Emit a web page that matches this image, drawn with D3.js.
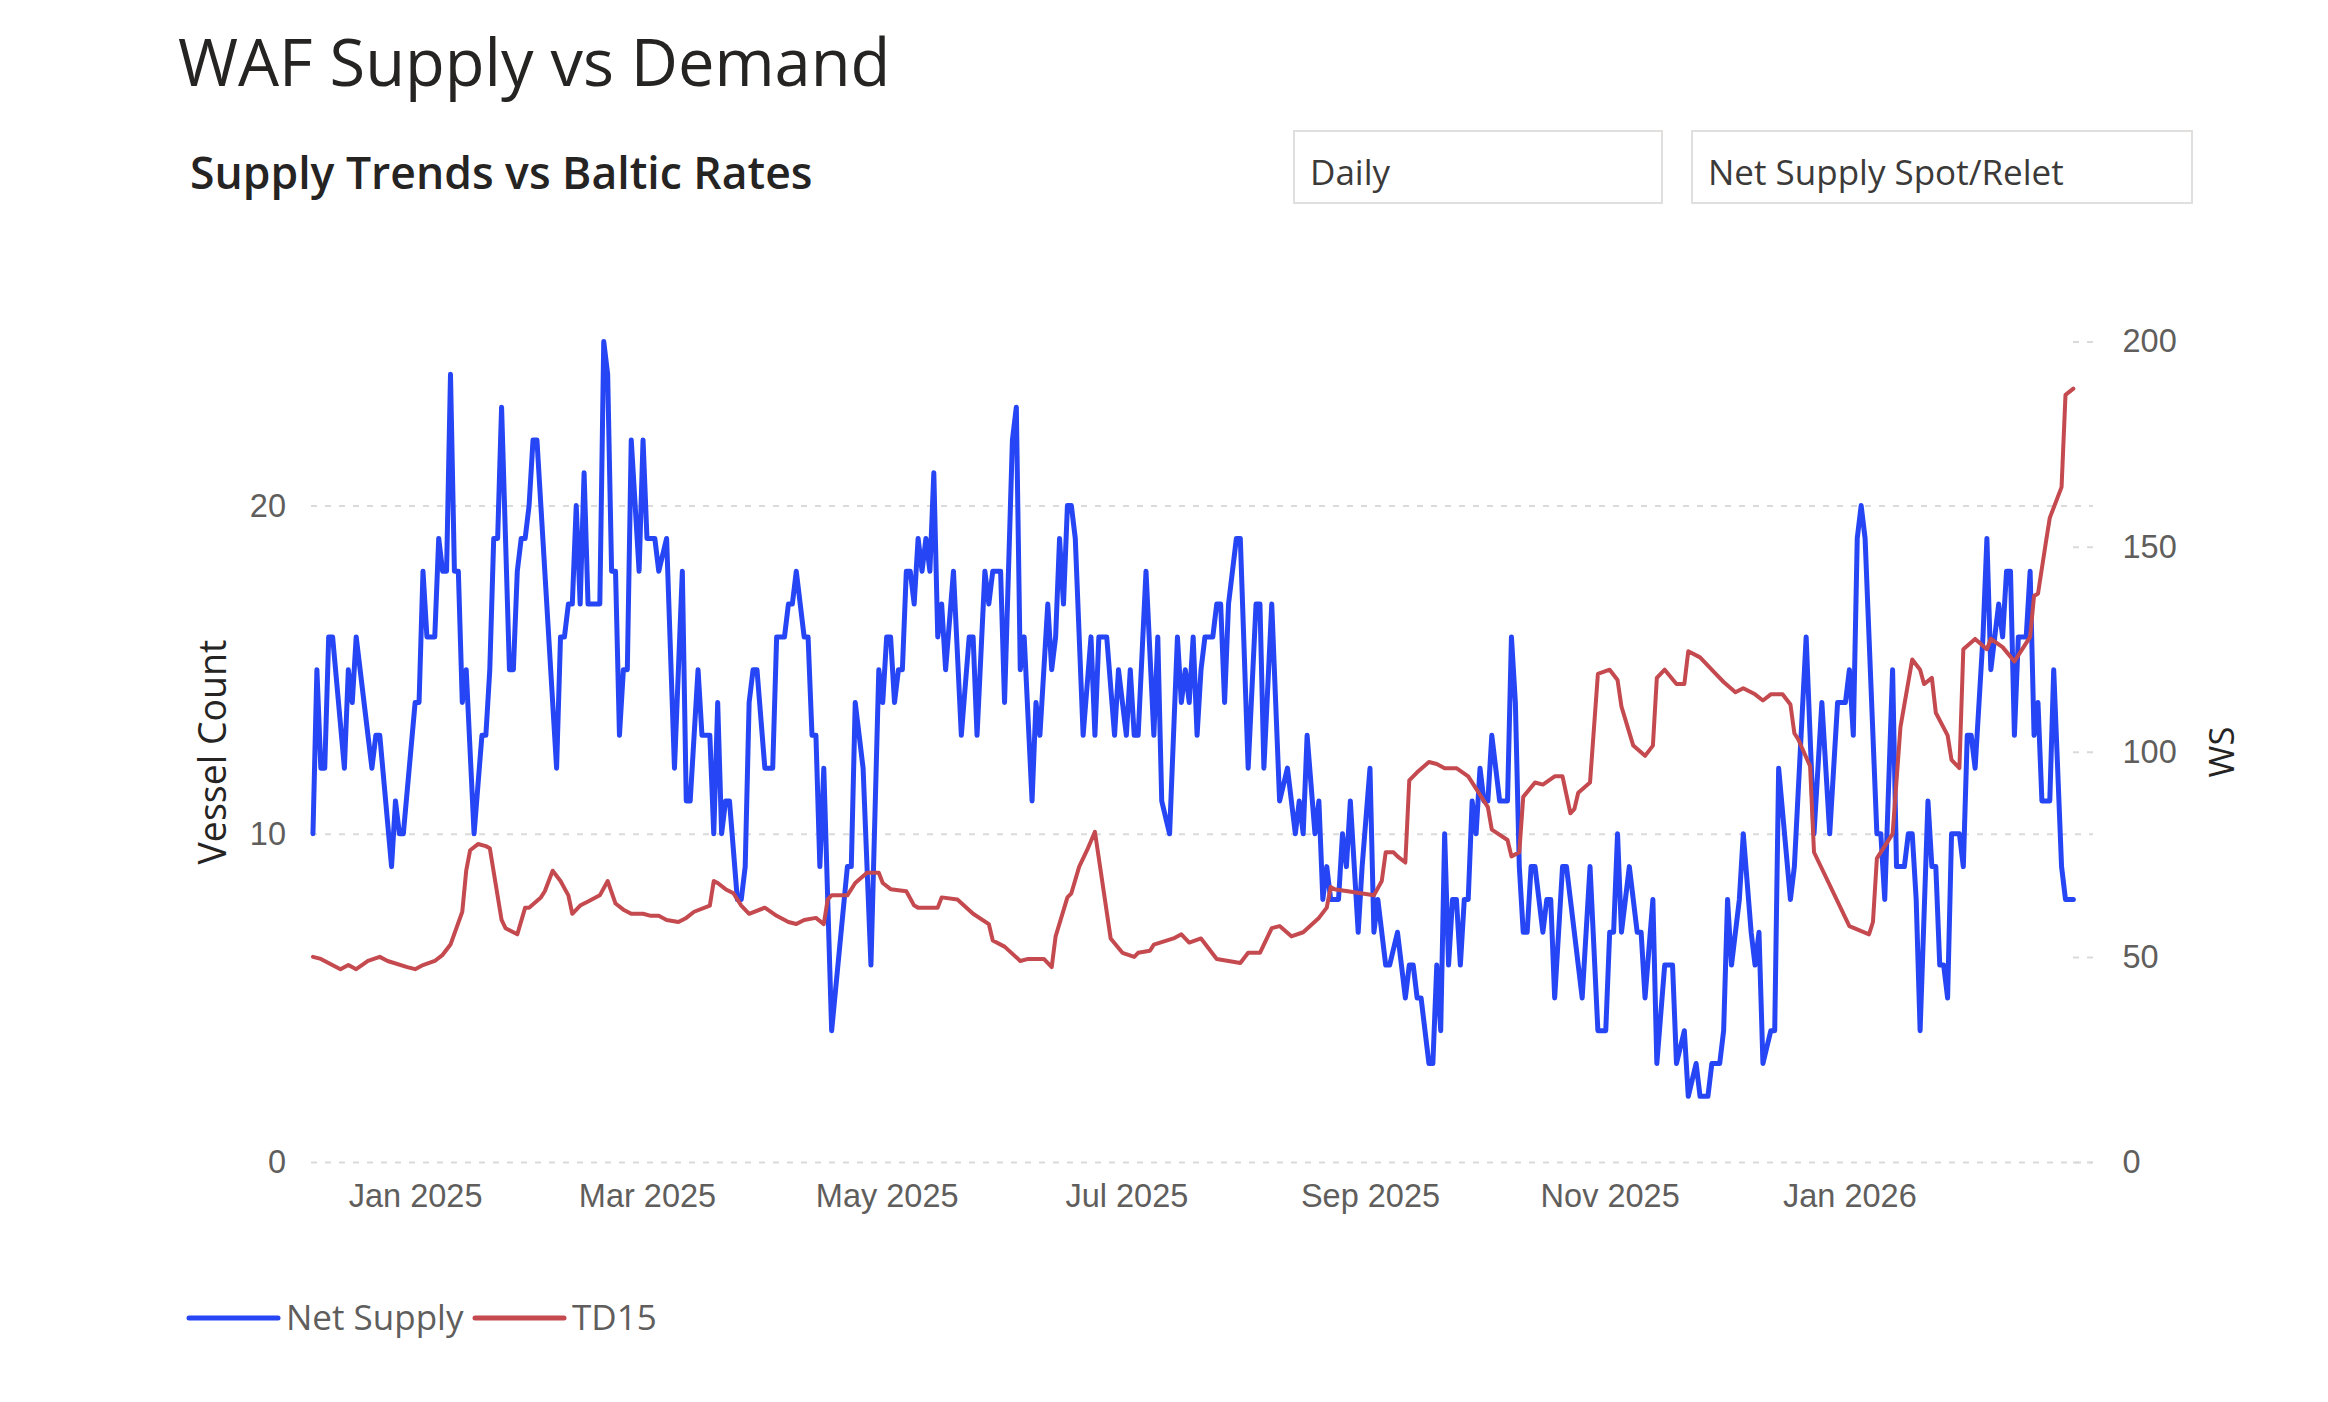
<!DOCTYPE html>
<html>
<head>
<meta charset="utf-8">
<title>WAF Supply vs Demand</title>
<script src="https://cdn.jsdelivr.net/npm/d3@7"></script>
<style>
  body { margin: 0; background: #fff; }
  svg { display: block; font-family: "Segoe UI", "Open Sans", sans-serif; }
</style>
</head>
<body>
<svg id="chart" width="2328" height="1402"></svg>
<script>
// dates are day offsets from baseDate
var baseDate = "2025-01-01";
var monthTicks = ["2025-01-01", "2025-03-01", "2025-05-01", "2025-07-01", "2025-09-01", "2025-11-01", "2026-01-01"];
var countTicks = [0, 10, 20];
var wsTicks = [0, 50, 100, 150, 200];
var seriesNames = ["Net Supply", "TD15"];
var slicerLabels = ["Daily", "Net Supply Spot/Relet"];

// Net Supply (vessel count)
var netSupply = [
  [-26,10],[-25,15],[-24,12],[-23,12],[-22,16],[-21,16],[-18,12],[-17,15],[-16,14],[-15,16],
  [-11,12],[-10,13],[-9,13],[-6,9],[-5,11],[-4,10],[-3,10],[0,14],[1,14],[2,18],
  [3,16],[5,16],[6,19],[7,18],[8,18],[9,24],[10,18],[11,18],[12,14],[13,15],
  [15,10],[17,13],[18,13],[19,15],[20,19],[21,19],[22,23],[24,15],[25,15],[26,18],
  [27,19],[28,19],[29,20],[30,22],[31,22],[36,12],[37,16],[38,16],[39,17],[40,17],
  [41,20],[42,17],[43,21],[44,17],[47,17],[48,25],[49,24],[50,18],[51,18],[52,13],
  [53,15],[54,15],[55,22],[57,18],[58,22],[59,19],[61,19],[62,18],[64,19],[66,12],
  [68,18],[69,11],[70,11],[72,15],[73,13],[75,13],[76,10],[77,14],[78,10],[79,11],
  [80,11],[82,8],[83,8],[84,9],[85,14],[86,15],[87,15],[89,12],[91,12],[92,16],
  [94,16],[95,17],[96,17],[97,18],[99,16],[100,16],[101,13],[102,13],[103,9],[104,12],
  [106,4],[110,9],[111,9],[112,14],[114,12],[116,6],[118,15],[119,14],[120,16],[121,16],
  [122,14],[123,15],[124,15],[125,18],[126,18],[127,17],[128,19],[129,18],[130,19],[131,18],
  [132,21],[133,16],[134,17],[135,15],[137,18],[139,13],[141,16],[142,16],[143,13],[145,18],
  [146,17],[147,18],[149,18],[150,14],[152,22],[153,23],[154,15],[155,16],[157,11],[158,14],
  [159,13],[161,17],[162,15],[163,16],[164,19],[165,17],[166,20],[167,20],[168,19],[170,13],
  [172,16],[173,13],[174,16],[176,16],[178,13],[179,15],[181,13],[182,15],[183,13],[184,13],
  [186,18],[188,13],[189,16],[190,11],[192,10],[194,16],[195,14],[196,15],[197,14],[198,16],
  [199,13],[200,15],[201,16],[203,16],[204,17],[205,17],[206,14],[207,17],[209,19],[210,19],
  [212,12],[214,17],[215,17],[216,12],[218,17],[220,11],[222,12],[223,11],[224,10],[225,11],
  [226,10],[227,13],[229,10],[230,11],[231,8],[232,9],[233,8],[235,8],[236,10],[237,9],
  [238,11],[240,7],[241,9],[243,12],[244,7],[245,8],[247,6],[248,6],[250,7],[252,5],
  [253,6],[254,6],[255,5],[256,5],[258,3],[259,3],[260,6],[261,4],[262,10],[263,6],
  [264,8],[265,8],[266,6],[267,8],[268,8],[269,11],[270,10],[271,12],[272,11],[273,11],
  [274,13],[276,11],[278,11],[279,16],[280,14],[281,9],[282,7],[283,7],[284,9],[285,9],
  [287,7],[288,8],[289,8],[290,5],[292,9],[293,9],[295,7],[297,5],[299,9],[301,4],
  [303,4],[304,7],[305,7],[306,10],[307,7],[309,9],[311,7],[312,7],[313,5],[315,8],
  [316,3],[318,6],[320,6],[321,3],[323,4],[324,2],[326,3],[327,2],[329,2],[330,3],
  [332,3],[333,4],[334,8],[335,6],[337,8],[338,10],[340,7],[341,6],[342,7],[343,3],
  [345,4],[346,4],[347,12],[350,8],[351,9],[354,16],[356,10],[358,14],[360,10],[362,14],
  [364,14],[365,15],[366,13],[367,19],[368,20],[369,19],[372,10],[373,10],[374,8],[376,15],
  [377,9],[379,9],[380,10],[381,10],[382,8],[383,4],[385,11],[386,9],[387,9],[388,6],
  [389,6],[390,5],[391,10],[393,10],[394,9],[395,13],[396,13],[397,12],[399,16],[400,19],
  [401,15],[402,16],[403,17],[404,16],[405,18],[406,18],[407,13],[408,16],[410,16],[411,18],
  [412,13],[413,14],[414,11],[416,11],[417,15],[419,9],[420,8],[422,8]
];

// TD15 (WS)
var td15 = [
  [-26,50],[-24,49.5],[-19,47],[-17,48],[-15,47],[-12,49],[-9,50],[-7,49],[-2,47.5],[0,47],
  [2,48],[5,49],[7,50.5],[9,53],[12,61],[13,71],[14,76],[16,77.5],[18,77],[19,76.5],
  [22,59],[23,57],[26,55.5],[28,62],[29,62],[32,64.5],[33,66],[35,71],[37,68.5],[39,65],
  [40,60.5],[42,62.5],[44,63.5],[47,65],[49,68.5],[51,63],[53,61.5],[55,60.5],[58,60.5],[60,60],
  [62,60],[64,59],[67,58.5],[69,59.5],[71,61],[75,62.5],[76,68.5],[77,68],[79,66.5],[81,65.5],
  [83,62.5],[85,60.5],[89,62],[92,60],[95,58.5],[97,58],[99,59],[102,59.5],[104,58],[105,64],
  [106,65],[110,65],[112,68],[115,70.5],[118,70.5],[119,68],[121,66.5],[125,66],[127,62.5],[128,62],
  [133,62],[134,64.5],[138,64],[142,60.5],[146,58],[147,54],[150,52.5],[154,49],[156,49.5],[160,49.5],
  [162,47.5],[163,55],[166,64.5],[167,65.5],[169,72],[171,76],[173,80.5],[177,54.5],[180,51],[183,50],
  [184,51],[187,51.5],[188,53],[193,54.5],[195,55.5],[197,53.5],[200,54.5],[204,49.5],[210,48.5],[212,51],
  [215,51],[218,57],[220,57.5],[223,55],[226,56],[230,59.5],[232,62],[233,67],[234,66.5],[244,65],
  [246,68.5],[247,75.5],[249,75.5],[250,74.5],[252,73],[253,93],[255,95],[258,97.5],[260,97],[262,96],
  [265,96],[268,94],[270,91],[273,86.5],[274,81],[278,78.5],[279,74.5],[281,75.5],[282,89],[285,92.5],
  [287,92],[290,94],[292,94],[294,85],[295,86],[296,90],[299,92.5],[301,119],[304,120],[306,117.5],
  [307,111],[310,101.5],[313,99],[315,101.5],[316,118],[318,120],[321,116.5],[323,116.5],[324,124.5],[327,123],
  [331,119],[333,117],[336,114.5],[338,115.5],[341,114],[343,112.5],[345,114],[348,114],[350,111.5],[351,104.5],
  [352,103],[355,96.5],[356,75.5],[365,57.5],[370,55.5],[371,58.5],[372,74],[374,77],[376,80],[378,106],
  [381,122.5],[383,120],[384,116.5],[386,118],[387,109.5],[390,104],[391,98],[393,96],[394,125],[397,127.5],
  [400,125],[401,127.5],[404,125.5],[407,122],[409,125],[411,128],[412,138],[413,138.5],[415,151],[416,157],
  [419,164.5],[420,187],[422,188.5]
];

var blue = "#2645f5";
var red = "#c44a4f";

var svg = d3.select("#chart");
var parse = d3.timeParse("%Y-%m-%d");
var base = parse(baseDate);

var plot = {left: 311, right: 2093, top: 341.5, bottom: 1162};

function toPoints(rows){
    return rows.map(function(r){
        return {date: d3.timeDay.offset(base, r[0]), value: r[1]};
    });
}

var x = d3.scaleTime()
    .domain([d3.timeHour.offset(base, -26.5 * 24), d3.timeDay.offset(base, 427)])
    .range([plot.left, plot.right]);

var yCount = d3.scaleLinear().domain([0, 25]).range([plot.bottom, plot.top]);
var yWS = d3.scaleLinear().domain([0, 200]).range([plot.bottom, plot.top]);

// titles
svg.append("text")
    .attr("x", 178).attr("y", 86)
    .style("font-size", "65px")
    .style("fill", "#252423")
    .text("WAF Supply vs Demand");

svg.append("text")
    .attr("x", 190).attr("y", 189)
    .style("font-size", "44.5px")
    .style("font-weight", 600)
    .style("fill", "#252423")
    .text("Supply Trends vs Baltic Rates");

// slicer boxes
var slicers = [{x: 1294, w: 368}, {x: 1692, w: 500}];
slicers.forEach(function(s, i){
    svg.append("rect")
        .attr("x", s.x).attr("y", 131)
        .attr("width", s.w).attr("height", 72)
        .attr("fill", "#fff")
        .attr("stroke", "#e1dfdd")
        .attr("stroke-width", 2);
    svg.append("text")
        .attr("x", s.x + 16).attr("y", 185)
        .style("font-size", "35px")
        .style("fill", "#3b3a39")
        .text(slicerLabels[i]);
});

// left axis with dashed gridlines
var leftAxis = svg.append("g")
    .attr("transform", "translate(" + plot.left + ",0)")
    .call(d3.axisLeft(yCount)
        .tickValues(countTicks)
        .tickSize(-(plot.right - plot.left))
        .tickPadding(25));
leftAxis.select(".domain").remove();
leftAxis.selectAll("line")
    .attr("stroke", "#dadada")
    .attr("stroke-width", 2)
    .attr("stroke-dasharray", "6,8");
leftAxis.selectAll("text")
    .style("font-size", "32.5px")
    .style("fill", "#605e5c")
    .style("font-family", "inherit");

// right axis
var rightAxis = svg.append("g")
    .attr("transform", "translate(" + plot.right + ",0)")
    .call(d3.axisRight(yWS)
        .tickValues(wsTicks)
        .tickSizeInner(-24)
        .tickSizeOuter(0)
        .tickPadding(29.5));
rightAxis.select(".domain").remove();
rightAxis.selectAll("line")
    .attr("stroke", "#dadada")
    .attr("stroke-width", 2)
    .attr("stroke-dasharray", "6,8");
rightAxis.selectAll("text")
    .style("font-size", "32.5px")
    .style("fill", "#605e5c")
    .style("font-family", "inherit");

// bottom axis
var bottomAxis = svg.append("g")
    .attr("transform", "translate(0," + plot.bottom + ")")
    .call(d3.axisBottom(x)
        .tickValues(monthTicks.map(parse))
        .tickFormat(d3.timeFormat("%b %Y"))
        .tickSize(0)
        .tickPadding(21.5));
bottomAxis.select(".domain").remove();
bottomAxis.selectAll("text")
    .style("font-size", "32.5px")
    .style("fill", "#605e5c")
    .style("font-family", "inherit");

// axis titles
svg.append("text")
    .attr("transform", "translate(226,752) rotate(-90)")
    .attr("text-anchor", "middle")
    .style("font-size", "37.5px")
    .style("fill", "#252423")
    .text("Vessel Count");

svg.append("text")
    .attr("transform", "translate(2234,752) rotate(-90)")
    .attr("text-anchor", "middle")
    .style("font-size", "34.5px")
    .style("fill", "#252423")
    .text("WS");

// lines
var supplyLine = d3.line()
    .x(function(d){ return x(d.date); })
    .y(function(d){ return yCount(d.value); });

var wsLine = d3.line()
    .x(function(d){ return x(d.date); })
    .y(function(d){ return yWS(d.value); });

svg.append("path")
    .datum(toPoints(netSupply))
    .attr("d", supplyLine)
    .attr("fill", "none")
    .attr("stroke", blue)
    .attr("stroke-width", 5)
    .attr("stroke-linejoin", "round")
    .attr("stroke-linecap", "round");

svg.append("path")
    .datum(toPoints(td15))
    .attr("d", wsLine)
    .attr("fill", "none")
    .attr("stroke", red)
    .attr("stroke-width", 4)
    .attr("stroke-linejoin", "round")
    .attr("stroke-linecap", "round");

// legend
var legendX = [189, 475];
var legendColors = [blue, red];
seriesNames.forEach(function(name, i){
    svg.append("line")
        .attr("x1", legendX[i]).attr("x2", legendX[i] + 89)
        .attr("y1", 1318).attr("y2", 1318)
        .attr("stroke", legendColors[i])
        .attr("stroke-width", 5)
        .attr("stroke-linecap", "round");
    svg.append("text")
        .attr("x", legendX[i] + 97).attr("y", 1318)
        .attr("dy", "0.35em")
        .style("font-size", "35px")
        .style("fill", "#605e5c")
        .text(name);
});
</script>
</body>
</html>
